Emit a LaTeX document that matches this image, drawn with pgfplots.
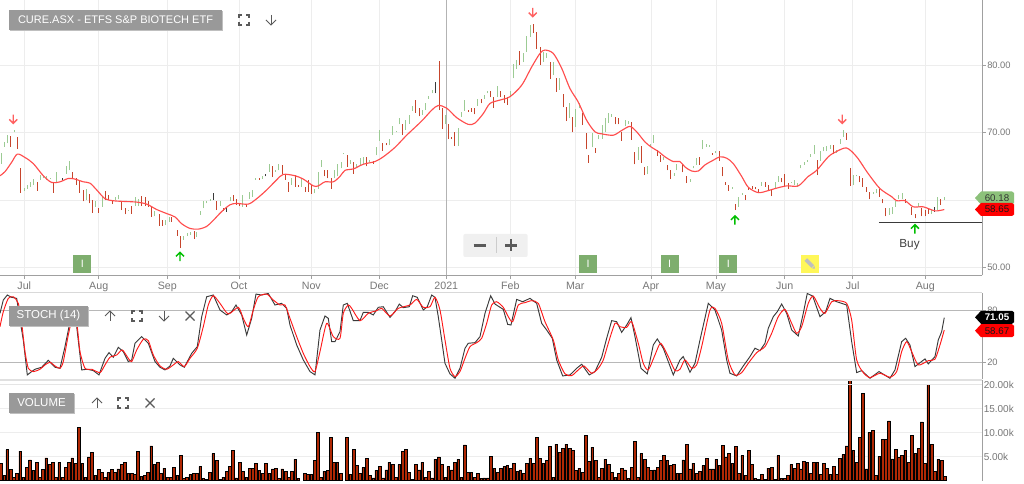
\documentclass[border=0pt]{standalone}
\usepackage{fontspec}
\setmainfont{Liberation Sans}
\usepackage{pgfplots}
\usepackage{pgfplotstable}
\pgfplotsset{compat=1.18}
\definecolor{gbar}{HTML}{9CCB94}
\definecolor{rbar}{HTML}{C6452C}
\definecolor{kbar}{HTML}{3A3A3A}
\definecolor{maline}{HTML}{FF4D4D}
\definecolor{gridc}{HTML}{EDEDED}
\definecolor{axc}{HTML}{A0A0A0}
\definecolor{txtc}{HTML}{777777}
\definecolor{labc}{HTML}{999999}
\definecolor{tagg}{HTML}{8CC17A}
\definecolor{iconc}{HTML}{5A5A5A}
\pgfdeclareplotmark{dnarr}{\pgfpathmoveto{\pgfqpoint{0pt}{3.3pt}}\pgfpathlineto{\pgfqpoint{0pt}{-3.3pt}}\pgfpathmoveto{\pgfqpoint{-3pt}{-0.3pt}}\pgfpathlineto{\pgfqpoint{0pt}{-3.3pt}}\pgfpathlineto{\pgfqpoint{3pt}{-0.3pt}}\pgfusepathqstroke}
\pgfdeclareplotmark{uparr}{\pgfpathmoveto{\pgfqpoint{0pt}{-3.3pt}}\pgfpathlineto{\pgfqpoint{0pt}{3.3pt}}\pgfpathmoveto{\pgfqpoint{-3pt}{0.3pt}}\pgfpathlineto{\pgfqpoint{0pt}{3.3pt}}\pgfpathlineto{\pgfqpoint{3pt}{0.3pt}}\pgfusepathqstroke}
\pgfplotstableread{
x lo hi
1.0 65.4 66.9
4.0 67.9 68.6
7.3 68.4 69.6
14.0 70.0 70.4
24.0 61.4 61.8
27.3 61.7 62.2
30.7 62.0 62.6
33.7 62.2 63.1
40.0 63.0 63.7
43.3 63.2 63.6
46.7 63.0 63.5
50.0 63.1 63.3
56.3 62.7 64.1
66.0 63.9 65.1
69.3 64.4 65.8
86.0 60.0 61.6
95.7 59.0 59.8
102.0 59.0 60.5
115.3 60.0 60.5
118.7 60.1 60.8
128.7 58.4 58.6
135.0 59.1 60.4
138.3 59.1 60.2
154.3 57.6 58.4
165.7 56.3 57.0
169.0 56.8 57.5
183.7 54.1 54.7
187.0 54.7 55.1
190.3 54.9 55.3
196.7 54.5 55.3
200.3 57.8 58.4
203.3 58.8 59.8
206.7 59.5 59.9
210.0 59.9 60.1
220.0 59.1 59.9
230.0 59.8 60.5
242.7 59.0 60.7
249.3 60.2 61.2
252.7 60.5 61.5
255.7 63.0 63.3
262.3 63.1 63.6
269.0 64.2 65.3
275.3 64.2 64.4
278.7 64.4 65.3
291.7 62.3 63.2
301.7 62.0 63.2
314.7 61.0 61.7
318.0 61.7 64.2
321.0 64.9 66.0
334.0 63.2 64.4
337.3 63.5 65.4
341 64.7 65.6
343.7 66.8 67.0
350.3 65.4 65.9
356.7 64.9 65.4
360 65.2 66.2
363.3 65.4 66.3
369.7 65.6 65.9
376.3 66.6 67.9
379.3 68.8 70.4
389.3 68.1 69.1
392.7 69.6 70.9
396 70.0 70.2
399.3 71.2 72.2
405.7 70.4 71.8
409 71.3 72.6
412.3 73.2 73.9
422.3 72.6 73.3
425.3 73.3 74.3
428.7 75.0 75.4
432 75.8 76.3
445.3 71.2 72.6
458 68.0 70.7
461.3 72.3 73.1
464.7 73.2 74.8
477.7 73.9 75.0
484.3 75.0 75.5
487.7 75.8 76.2
497.3 75.3 76.9
510.7 75.4 76.2
513.3 78.0 80.1
516.7 79.4 80.7
523.3 80.4 81.7
526.7 81.9 84.3
530 84.1 85.9
543.3 80.5 81.9
546.7 81.0 81.8
553 78.5 80.4
559.7 76.3 78.1
569.3 72.1 74.4
575.7 70.8 73.5
579 73.6 74.4
592.3 67.8 69.9
598.7 69.0 69.7
602 69.1 71.1
605.3 70.0 72.1
608.7 71.4 72.9
611.7 72.3 72.7
625 70.9 71.9
628.3 71.2 71.7
638.3 66.0 67.9
647.3 63.8 65.0
650.7 67.9 68.3
653.7 68.5 69.6
663.7 65.9 66.4
674 63.6 64.0
676.7 64.4 65.4
690 62.7 63.1
693.3 64.7 65.0
696.7 65.2 66.2
702.7 67.5 68.9
706 67.9 68.3
709.3 67.9 68.1
715.7 66.9 67.2
732 61.7 62.0
738.7 59.0 60.5
742 60.8 61.1
761.7 62.1 62.6
775 61.7 62.6
778.3 62.7 63.5
791 62.5 62.7
794.3 62.2 63.0
797.7 62.0 62.5
800.7 64.7 65.2
804 65.2 65.6
807.3 65.7 66.0
810.7 66.4 66.8
814 66.8 68.2
820.3 65.8 67.2
823.7 67.2 67.9
826.7 67.2 68.0
830 67.6 68.1
836.7 67.0 67.4
840 68.3 69.1
843.7 69.4 70.4
853 62.2 63.7
856.3 63.5 63.7
873 60.9 61.2
876 61.0 61.7
889 57.8 58.8
892 58.0 59.0
895.3 59.0 59.8
898.7 60.2 60.7
902 60.2 61.1
918.7 59.0 59.6
931.3 58.0 58.5
937.7 58.5 60.4
944.3 60.0 60.4
}\greenbars
\pgfplotstableread{
x lo hi
10.7 67.9 69.5
17.7 67.6 69.4
20.7 61.1 64.7
37.0 61.4 62.7
53.3 61.1 62.7
72.7 63.2 64.2
76.0 62.2 63.2
79.3 61.1 63.0
83.0 59.8 61.5
89.3 59.5 60.9
92.3 58.1 60.0
98.7 58.1 58.8
105.3 60.0 61.3
108.7 60.0 60.7
112.0 59.4 60.0
121.7 58.5 59.8
125.0 57.9 58.8
131.7 58.0 59.1
141.7 59.1 60.6
145.0 59.1 60.5
148.3 59.0 59.8
151.0 57.5 58.9
159.0 56.2 58.0
162.3 56.2 57.0
171.7 56.8 57.5
177.7 54.7 55.5
180.3 52.9 54.7
194.0 54.3 55.4
216.7 58.5 59.8
223.3 58.4 58.8
233.0 59.8 60.8
236.3 59.3 60.2
239.3 59.1 59.5
246.0 59.0 59.4
259.0 63.0 63.3
272.3 63.4 65.0
282.0 63.9 65.2
285.3 63.0 63.9
288.7 61.2 62.6
295.0 62.0 63.7
298.3 61.9 62.3
305.0 61.2 62.0
308.3 61.2 62.9
311.7 60.9 62.2
324.3 63.5 64.4
327.7 63.2 64.4
331.0 61.7 63.2
347 64.9 66.7
353.7 63.9 65.6
366.3 65.0 66.4
373 65.4 65.8
382.7 67.3 68.5
386 68.1 68.5
402.3 69.6 71.3
415.7 72.9 74.8
419 72.4 73.6
439 73.3 80.6
442 70.5 73.6
448.3 69.0 71.3
451.7 69.1 69.4
454.7 68.0 70.1
468 73.1 73.4
471.3 73.1 73.6
474.7 72.7 73.6
481 74.3 75.0
490.7 75.2 76.2
493.7 73.6 75.2
500.7 75.3 76.2
504 74.3 75.6
507.3 74.1 75.3
519.7 80.0 82.1
533.3 84.7 86.1
536.3 82.4 84.8
540 80.0 82.7
550.3 77.9 80.5
556.3 76.0 78.0
563 73.7 75.7
566 71.7 73.7
572.3 70.0 72.3
582.3 71.1 72.9
586 67.5 69.9
588.7 65.5 66.7
595.3 67.0 67.7
615 71.2 72.3
618.3 71.2 72.2
621.7 68.8 70.0
631 68.9 71.6
634.7 65.3 67.1
641 65.5 68.0
644.3 63.7 64.9
657.3 66.5 67.4
660.3 65.7 66.7
667.3 64.4 65.2
670.7 63.1 64.4
682.7 64.1 65.4
686.7 62.5 63.5
699.3 65.2 66.3
712.3 66.7 66.9
719.3 65.8 67.2
722.3 63.5 64.9
725.7 62.3 62.6
728.7 61.4 62.2
735.3 58.5 59.4
745.3 60.0 60.7
748.7 61.5 62.0
752 61.7 62.1
755.3 61.6 62.0
758.7 61.0 61.7
765 62.0 62.6
768.3 61.5 62.2
771.3 60.6 61.6
781.3 62.6 63.2
784.7 62.1 63.9
788 61.7 62.5
817 63.7 65.9
833.3 66.8 68.2
846.3 68.9 69.9
850 62.1 64.8
859.7 62.6 63.6
862.7 62.0 63.3
866 61.2 61.9
869.7 60.1 61.2
879 60.5 61.7
882.3 59.5 60.2
885.7 57.6 58.8
905.3 59.6 60.2
911.3 57.8 58.9
915.3 57.3 57.9
921.3 57.6 58.8
925 57.6 58.5
928 58.0 58.8
940.7 59.3 60.2
}\redbars
\pgfplotstableread{
x lo hi
62.3 63.0 63.2
213.3 60.0 61.0
226.7 58.3 59.0
265.7 63.5 63.8
435.3 75.8 77.5
934.3 58.3 58.9
}\blackbars
\pgfplotstableread{
x y
0 63.6
5 64.2
11.7 65.6
17.3 66.8
25 66.3
33.3 65.4
43.3 63.6
51.7 62.6
60 62.7
68.3 63.2
75 63.1
83.3 62.7
90 62.5
96.7 61.5
105 60.2
113.3 59.9
123.3 59.8
136.7 59.7
146.7 59.4
156.7 58.6
166.7 58.0
175 57.5
181.7 56.5
190 55.8
198.3 55.7
206.7 56.1
213.3 57.0
221.7 58.3
230 59.3
236.7 59.5
248.3 59.4
256.7 60.2
266.7 61.5
276.7 63.0
283.3 63.8
295 63.6
303.3 63.1
313.3 62.1
318.3 62.1
325 62.7
333.3 62.7
340 63.5
345 64.4
353.3 64.6
363.3 65.3
375 65.7
383.3 66.4
395 67.8
406.7 69.6
421.7 71.7
431.7 73.3
438.3 74.0
446.7 73.6
456.7 72.2
468.3 71.2
475 71.4
483.3 72.8
490 74.3
500 74.8
510 75.3
521.7 77.0
531.7 79.7
540 81.7
545 82.2
553.3 81.7
561.7 79.5
570 76.5
578.3 74.5
586.7 71.8
595 70.1
601.7 69.8
613.3 69.6
621.7 70.3
630 70.9
636.7 70.1
645 68.6
651.7 67.8
658.3 67.2
665 66.4
673.3 65.7
680 65.7
685 64.9
691.7 64.3
698.3 64.3
705 65.2
713.3 65.9
720 66.4
726.7 66.2
733.3 65.4
741.7 63.5
748.3 61.9
758.3 61.1
768.3 61.4
775 61.7
786.7 62.1
798.3 62.1
808.3 63.5
816.7 64.4
828.3 66.4
836.7 67.2
846.7 67.7
856.7 66.4
868.3 63.9
880 61.7
891.7 60.5
896.7 59.9
905 59.9
913.3 59.0
923.3 59.0
935 58.4
944.3 58.6
}\maline
\pgfplotstableread{
x y
0 76.9
3.3 92.4
7.3 98.2
11.7 95.5
16.7 94.3
20 69.1
23.3 45.9
27.3 5.3
31.7 9.2
35 11.9
41.7 14.2
48.3 22.3
55 14.2
60 13.0
65 38.2
70 67.2
76.7 61.4
81.7 11.1
87.3 11.9
93.3 10.3
99 5.3
105 24.6
109 31.2
113.3 25.8
118.3 37.4
123.3 32.4
128.3 20.8
131.7 22.7
135 42.1
141.7 49.8
148.3 42.1
155 20.8
160 14.2
165 11.1
170 15.7
173.3 24.6
180 16.9
184.3 14.2
191.7 30.4
197.3 38.2
201.7 73.0
206.7 96.2
213.3 98.2
220 80.8
226.7 75.0
231.7 78.8
236 86.6
241.7 75.0
246.7 51.7
251.7 71.1
256 99.3
261.7 98.2
268.3 100
275 86.6
281.7 88.5
286.7 82.7
290 63.3
296.7 40.1
303.3 22.7
310 9.2
315 5.3
320 57.5
325 73.8
328.3 71.1
331.7 44.0
335 44.0
340 55.6
343.3 86.6
347.3 88.5
353.3 68.4
360 68.4
363.3 78.1
368.3 78.1
373.3 75.0
378.3 83.9
383.3 84.6
390 72.2
395 78.8
399.3 87.7
403.3 83.5
409.3 84.6
412.7 97.4
417.3 95.5
423.3 80.8
427.3 84.6
431.7 98.2
435 95.5
438.3 73.0
441.7 45.9
445 18.8
450 6.5
455 1.4
460 13.0
465 36.3
468.3 42.1
475 42.8
480 49.8
485 76.9
490.7 97.4
495 87.7
503.3 81.5
507.7 64.1
511 63.3
516.7 93.1
522.7 90.4
530 94.3
536.7 88.5
541.7 65.3
546.7 57.5
552.3 47.9
556.7 22.7
562.7 4.1
570 5.3
576.7 13.0
581.7 17.7
589.3 5.3
595 9.2
601.7 25.8
606.7 47.9
611.7 68.4
616.7 67.2
621.7 54.8
626.7 63.3
631 71.9
635 49.8
641 13.0
647.3 6.5
653.3 40.1
657.3 47.1
663.3 36.3
673.3 5.3
680 22.7
683.3 26.6
690 8.4
695 18.8
700 45.9
708.3 88.5
715 80.8
721.7 57.5
726.7 22.7
730 7.2
736.7 4.1
743.3 15.7
750 26.6
755 36.3
760 33.5
765 42.1
768.3 59.5
773.3 73.0
777.3 78.8
781.7 87.7
786.7 76.9
791.7 57.5
798.3 50.6
803.3 76.9
807.3 100
812.7 97.0
820 73.0
825.7 78.8
830 94.3
836.7 90.4
846.7 86.6
851.7 44.0
856.7 8.0
861.7 10.3
870 1.4
879 9.2
890 1.4
895 11.1
901.7 44.0
905.7 47.9
910 40.1
915 15.0
925 23.9
928.3 18.1
935 26.6
938.3 45.9
941.7 55.6
944.3 71.9
}\stochk
\pgfplotstableread{
x y
0 61.4
3.3 78.8
8.3 94.3
13.3 96.2
18.3 88.5
21.7 65.3
25 32.4
28.3 13.0
33.3 9.2
40 11.9
45 16.9
50 20
55 15.7
60 13.0
63.3 20.8
68.3 51.7
71.7 67.2
76.7 65.3
80 32.4
85 13.0
91.7 11.9
100 8.0
105 16.9
110 25.8
116.7 28.5
122.3 34.3
128.3 24.6
131.7 20.8
136.7 34.3
143.3 46.7
148.3 45.2
153.3 28.5
160 15.7
166.7 11.9
173.3 16.9
178.3 20.8
184.3 15.0
190 24.6
197.3 36.3
203.3 61.4
208.3 86.6
213.3 97.4
220 88.5
228.3 76.1
238.3 83.9
243.3 71.1
248.3 61.4
253.3 80.8
258.3 96.2
266.7 99.3
273.3 92.4
280 86.6
285 86.6
290 71.1
296.7 49.8
303.3 30.4
310 15.0
315 9.2
320 32.4
326.7 65.3
333.3 49.8
340 47.9
343.3 76.9
348.3 86.6
351.7 82.7
360 68.4
368.3 76.9
376.7 80.0
381.7 82.7
390 73.8
398.3 82.7
410 86.6
416.7 93.1
423.3 83.9
430 84.6
435 95.5
440 80.8
445 45.9
450 13.0
455 3.4
460 9.2
465 24.6
470 38.2
476.7 42.8
481.7 47.9
486.7 65.3
491.7 86.6
496.7 90.4
503.3 83.9
508.3 73.0
512.7 67.2
518.3 86.6
525 89.3
531.7 91.6
538.3 88.5
545 67.2
553.3 45.9
558.3 22.7
565 6.5
571.7 4.5
578.3 11.1
584 15.7
591.7 7.2
598.3 13.0
603.3 22.7
608.3 42.1
615 65.3
620 61.4
626.7 60.6
631.7 67.2
638.3 42.1
643.3 18.8
648.3 11.1
655 28.5
660.7 42.1
668.3 26.6
675 10.3
680 11.9
685 22.7
691.7 13.0
696.7 16.9
701.7 38.2
710 80.8
715 82.7
721.7 65.3
728.3 22.7
735 5.3
741.7 8.0
748.3 18.8
756.7 31.2
765 38.2
771.7 53.7
778.3 73.0
785 81.5
791.7 65.3
796.7 53.7
801.7 61.4
808.3 88.5
813.3 97.0
820 82.7
825 76.9
831.7 90.4
838.3 91.6
846.7 88.5
851.7 69.1
856.7 22.7
863.3 8.0
870 2.2
880 7.2
890 2.6
896.7 9.2
901.7 32.4
906.7 44.0
911.7 32.4
918.3 16.9
928.3 21.9
935 23.5
940 40.1
944.3 57.5
}\stochd
\pgfplotstableread{
x v
1.0 3.5
4.3 1.0
7.3 6.4
11 2.3
14 0.7
17 1.5
20.3 6.1
23.3 0.7
26.7 2.8
30 4.3
33.3 2.1
36.7 3.7
40 0.7
43 2.3
46.3 4.7
49.7 3.3
52.7 3.7
56 0.7
59.3 3.7
62.7 0.7
66 2.8
69 3.7
72.3 4.7
75.7 3.5
79 11.0
82.3 3.5
85.3 0.7
88.7 4.9
92 5.8
95.3 1.0
98.7 2.3
102 1.7
105 0.7
108.3 1.6
111.7 2.3
115 1.7
118.3 2.4
121.7 3.3
125 3.8
128.3 1.4
131.7 1.4
135 1.3
138 6.0
141.3 0.8
144.7 1.0
148 1.7
151.3 7.2
154.3 3.3
157.7 3.7
161 1.5
164.3 2.6
167.7 0.7
170.7 0.7
174 2.8
177.3 1.0
180.7 5.2
184 0.35
187 0.7
190.3 1.2
193.7 1.4
197 1.5
200.3 2.9
203.3 0.35
206.7 0.15
210 1.7
213.3 5.6
216.7 4.2
220 0.15
223.3 0.7
226.7 1.9
230 2.9
233 6.25
236.3 0.55
239.7 3.8
243 1.9
246.3 0.7
249.7 2.6
253 2.6
256 3.5
259.3 2.1
262.7 1.4
266 3.5
269.3 1.4
272.7 2.4
275.7 2.6
279 0.35
282.3 2.4
285.7 1.9
289 0.7
292 1.9
295.3 4.4
298.3 0.35
304.7 1.5
308 1.2
311.3 1.2
314.7 4.2
318 10.1
321 0.7
324.3 1.9
327.7 2.1
330.7 9.0
334 3.7
337.3 3.7
341 1.4
347 8.9
350.3 1.25
353.7 6.5
357 3.1
360 1.5
363.3 2.7
366.7 4.6
370 1.0
373.3 0.55
376.3 2.1
379.7 2.9
383 0.55
386.3 2.2
389.3 3.8
392.7 3.3
396 0.7
399.3 3.3
402.7 6.0
406 6.4
409 1.7
412.3 0.3
415.7 3.3
419 2.2
422.3 3.8
425.7 0.7
429 1.9
432 0.55
435.3 4.4
438.7 4.9
442 3.3
445.3 0.7
448.3 2.9
451.7 2.2
455 3.8
458.3 4.4
461.3 0.7
464.7 7.4
468 1.7
471.3 1.6
474.7 0.7
478 1.4
481.3 0.5
484.3 0.55
487.7 0.55
491 5.0
494.3 2.6
497.7 1.7
501 2.5
504.3 2.9
507.3 3.1
510.7 2.6
514 3.5
517.3 1.9
520.3 2.2
523.7 1.5
527 3.5
530.3 4.65
533.7 3.5
536.7 8.9
540 4.65
543.3 3.5
546.7 4.2
550 7.1
553.3 0.7
556.3 7.6
559.7 5.9
563 6.6
566.3 7.6
569.7 6.6
572.7 6.25
576 2.1
579.3 2.6
582.7 1.7
585.7 9.4
589 3.9
592.3 6.9
595.7 4.2
599 0.7
602 2.6
605.3 4.4
608.7 3.3
612 1.7
615.3 0.7
618.7 1.5
621.7 2.6
625 2.2
628.3 0.35
631.7 2.8
634.7 8.1
638 0.7
641.3 5.6
644.7 4.4
648 2.8
651 2.1
654.3 2.2
657.7 2.8
661 4.1
664 5.2
667.3 4.2
670.7 3.1
674 3.3
677.3 1.4
681 1.4
683.3 4.3
686.7 7.6
690 2.4
693.3 3.6
696.7 1.5
700 1.9
703.3 3.1
706.7 4.6
710 2.4
713 2.4
716.3 4.4
719.3 3.1
722.7 7.3
726 4.9
729 5.6
732.3 3.5
735.7 7.1
739 1.4
742.3 5.2
745.7 1.0
748.7 6.3
752 3.3
755.3 0.35
759 0.15
761.7 1.2
765 0.2
768.3 2.6
771.7 2.8
775 0.15
778.3 5.2
781.3 0.35
784.7 0.35
788 1.0
791.3 3.3
794.7 2.6
797.7 3.5
801 2.4
804 4.0
807.3 3.8
810.7 1.5
814 3.7
817.3 3.8
820.7 1.2
823.7 3.5
827 2.6
830.3 1.25
833.7 2.9
837 1.2
840 4.6
843.3 5.4
846.7 7.2
850 20.8
853.3 6.3
856.7 3.8
860 9.0
863 18.1
866.3 2.4
869.3 10.0
872.7 10.5
876 1.0
879.3 5.0
882.7 8.6
886 8.6
889 12.4
892.3 4.5
895.7 6.5
898.7 4.8
902 5.2
905.3 6.3
908.7 3.7
912 9.4
915.3 5.6
918.7 6.6
921.7 12.2
925 3.5
928.3 20.1
931.7 7.6
935 1.9
938.3 4.4
941.7 4.1
945 0.8
}\volumes
\newcommand{\fsicon}[2]{\begin{scope}[shift={(#1,#2)},draw=iconc,line width=1.1pt]
\draw (-5,-2)--(-5,-5)--(-2,-5);\draw (2,-5)--(5,-5)--(5,-2);\draw (5,2)--(5,5)--(2,5);\draw (-2,5)--(-5,5)--(-5,2);\end{scope}}
\newcommand{\uparrowicon}[2]{\begin{scope}[shift={(#1,#2)},draw=iconc,line width=.7pt]
\draw (0,5)--(0,-5);\draw (-5,0)--(0,-5)--(5,0);\end{scope}}
\newcommand{\dnarrowicon}[2]{\begin{scope}[shift={(#1,#2)},draw=iconc,line width=.7pt]
\draw (0,-5)--(0,5);\draw (-5,0)--(0,5)--(5,0);\end{scope}}
\newcommand{\xicon}[2]{\begin{scope}[shift={(#1,#2)},draw=iconc,line width=1pt]
\draw (-4.5,-4.5)--(4.5,4.5);\draw (-4.5,4.5)--(4.5,-4.5);\end{scope}}
\newcommand{\graylabel}[5]{\fill[black!25] (#1+1,#3+1) rectangle (#2+1,#4+1);\fill[labc] (#1,#3) rectangle (#2,#4);\node[text=white,font=\fontsize{8.6pt}{10pt}\selectfont] at ({(#1+#2)/2},{(#3+#4)/2}) {#5};}
\newcommand{\pricetag}[5]{\fill[#2] (975,#1)--(981,#1-6.5)--(1012,#1-6.5)--(1014,#1-5)--(1014,#1+5)--(1012,#1+6.5)--(981,#1+6.5)--cycle;\node[text=#3,font=\fontsize{#5}{9pt}\selectfont] at (997,#1) {#4};}
\newcommand{\infobox}[2]{\fill[#2] (#1-9,255) rectangle (#1+9,272.7);}
\pgfplotsset{common/.style={scale only axis,anchor=south west,width=736.7pt,xmin=0,xmax=982.3,clip=true,
  axis y line*=right,axis line style={draw=axc,-},tick style={draw=axc,line width=.6pt},
  tick label style={text=txtc,font=\fontsize{7pt}{9pt}\selectfont},
  y tick label style={anchor=west,xshift=-2.4pt},major tick length=2.6pt,tick align=outside},
  hlbars/.style={no markers,draw=none,forget plot,error bars/.cd,y dir=plus,y explicit,error mark=none,error bar style={draw=#1,line width=.7pt,solid}}}
\begin{document}
\begin{tikzpicture}
\path[use as bounding box,fill=white] (0pt,-363pt) rectangle (768pt,0pt);
% price
\begin{axis}[common,at={(0pt,-206.55pt)},height=206.5pt,ymin=48.85,ymax=89.6,
  axis x line*=bottom,
  xtick={24.3,98.7,167.3,239,311.3,379.3,446.3,510.3,575.3,651,716,784.7,852.7,925.3},
  xticklabels={Jul,Aug,Sep,Oct,Nov,Dec,2021,Feb,Mar,Apr,May,Jun,Jul,Aug},
  x tick label style={font=\fontsize{8pt}{9pt}\selectfont,text height=6pt,text depth=1.7pt,yshift=1.2pt},
  ytick={50,60,70,80},yticklabels={50.00,60.00,70.00,80.00},
  grid=major,grid style={draw=gridc,line width=.6pt}]
\addplot[draw=axc!80,line width=.6pt,forget plot] coordinates {(446.3,48.85) (446.3,89.6)};
\addplot[hlbars=gbar] table[x=x,y=lo,y error plus expr=\thisrow{hi}-\thisrow{lo}] {\greenbars};
\addplot[hlbars=rbar] table[x=x,y=lo,y error plus expr=\thisrow{hi}-\thisrow{lo}] {\redbars};
\addplot[hlbars=kbar] table[x=x,y=lo,y error plus expr=\thisrow{hi}-\thisrow{lo}] {\blackbars};
\addplot[draw=maline,line width=.85pt,smooth,tension=.5] table[x=x,y=y] {\maline};
\addplot[draw=kbar,line width=.9pt] coordinates {(879,56.7) (982.3,56.7)};
\addplot[only marks,mark=dnarr,mark options={draw=red!50!pink,line width=1pt}] coordinates {(13.3,72.0) (532.7,87.8) (842.3,72.0)};
\addplot[only marks,mark=uparr,mark options={draw=green!75!black,line width=1.1pt}] coordinates {(180,51.6) (735,57.0) (915,55.7)};
\end{axis}
% stochastic
\begin{axis}[common,at={(0pt,-284.475pt)},height=64.95pt,ymin=0.2,ymax=100.9,
  axis x line=none,ytick={20,80},yticklabels={20,80},
  ymajorgrids,grid style={draw=black!28,line width=.6pt}]
\addplot[draw=kbar,line width=.7pt] table[x=x,y=y] {\stochk};
\addplot[draw=red!90!white,line width=.7pt,smooth,tension=.4] table[x=x,y=y] {\stochd};
\end{axis}
% volume
\begin{axis}[common,at={(0pt,-360.375pt)},height=75.4pt,ymin=0,ymax=20.95,
  axis x line=none,ytick={5,10,15,20},yticklabels={5.00k,10.00k,15.00k,20.00k},
  major tick length=0pt,
  y tick label style={font=\fontsize{7.5pt}{9pt}\selectfont},
  ymajorgrids,grid style={draw=gridc,line width=.6pt},ybar,bar width=2.15pt]
\addplot[draw=black,line width=.5pt,fill={rgb,255:red,176;green,40;blue,4}] table[x=x,y=v] {\volumes};
\end{axis}
\begin{scope}[x=.75pt,y=-.75pt]
% panel frames
\draw[black!15,line width=.7pt] (0,292.7)--(982,292.7);
\draw[black!12,line width=1.2pt] (0,379.8)--(982,379.8);
\draw[black!10,line width=.5pt] (0,384.3)--(982,384.3);
% labels and icons
\graylabel{9}{222}{10}{30}{\fontsize{8.25pt}{10pt}\selectfont CURE.ASX - ETFS S\&P BIOTECH ETF}
\fsicon{244}{20}\dnarrowicon{271}{20}
\graylabel{9}{88}{306}{326}{STOCH (14)}
\uparrowicon{110}{316}\fsicon{137}{316}\dnarrowicon{164}{316}\xicon{190}{316}
\graylabel{9}{74}{393}{413}{VOLUME}
\uparrowicon{97}{403}\fsicon{123}{403}\xicon{150}{403}
% info boxes
\foreach \p in {82.3,588,669.7,728.3}{\infobox{\p}{tagg!90!black}\node[text=white,font=\fontsize{8pt}{9pt}\selectfont] at (\p,263.8) {I};}
\infobox{810}{yellow!65!white}
\begin{scope}[shift={(810,263.8)},rotate=-45]\fill[black!25] (-6,-1.8) rectangle (4,1.8);\fill[black!25] (4.6,-1.8)--(7,0)--(4.6,1.8)--cycle;\end{scope}
% zoom control
\fill[black!6,rounded corners=1.5pt] (463.3,234) rectangle (527.7,257);
\draw[draw=black!20,line width=.6pt] (496.5,237)--(496.5,253);
\draw[draw=iconc,line width=1.9pt] (473.5,245.5)--(485.5,245.5);
\draw[draw=iconc,line width=1.9pt] (505,245.5)--(517,245.5) (511,239.5)--(511,251.5);
% buy text
\node[text=black!75,font=\fontsize{8.8pt}{10pt}\selectfont] at (909.5,244.5) {Buy};
% tags
\pricetag{198}{tagg}{black!80}{60.18}{7.3pt}
\pricetag{209.5}{red}{black!90}{58.65}{7.3pt}
\pricetag{317.3}{black}{white}{\textbf{71.05}}{7.3pt}
\pricetag{330.7}{red}{black!90}{58.67}{7.3pt}
\end{scope}
\end{tikzpicture}
\end{document}
